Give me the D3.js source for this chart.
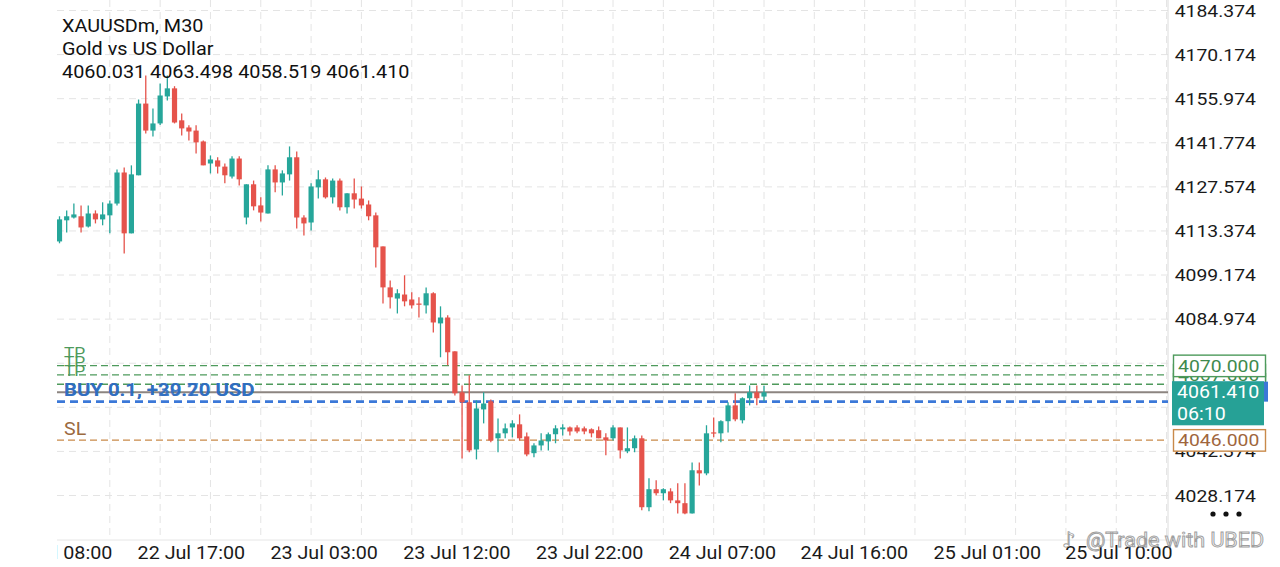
<!DOCTYPE html>
<html>
<head>
<meta charset="utf-8">
<script src="https://cdn.jsdelivr.net/npm/d3@7"></script>
<style>
  html, body { margin: 0; padding: 0; background: #ffffff; }
  svg { display: block; font-family: Roboto, "Noto Sans", sans-serif; }
</style>
</head>
<body>
<div id="vis1"></div>
<script>
// ----------DATA (XAUUSDm M30)-----------------------------------------
const opens = [4110.0, 4116.8, 4117.7, 4118.1, 4114.8, 4119.0, 4117.1, 4118.4, 4122.2, 4132.2,
  4112.6, 4131.3, 4154.4, 4145.7, 4148.0, 4156.7, 4159.3, 4149.0, 4146.7, 4145.7,
  4142.2, 4135.1, 4136.1, 4134.1, 4130.9, 4136.7, 4117.7, 4128.4, 4121.6, 4119.0,
  4133.2, 4129.0, 4131.6, 4137.1, 4117.7, 4116.1, 4127.4, 4130.0, 4124.2, 4129.6,
  4121.0, 4125.5, 4123.8, 4121.9, 4118.4, 4108.4, 4095.2, 4091.6, 4092.9, 4091.3,
  4090.0, 4089.4, 4093.3, 4083.6, 4085.5, 4074.6, 4061.4, 4058.2, 4043.0, 4055.9,
  4058.5, 4046.6, 4048.2, 4050.1, 4051.1, 4047.2, 4041.8, 4044.3, 4045.6, 4047.9,
  4049.5, 4050.1, 4050.1, 4049.8, 4049.5, 4049.2, 4046.9, 4046.6, 4050.1, 4042.4,
  4043.4, 4046.6, 4024.4, 4030.2, 4028.9, 4029.5, 4026.6, 4025.7, 4022.4, 4036.3,
  4035.3, 4048.5, 4048.2, 4052.1, 4057.2, 4052.4, 4059.5, 4061.4, 4060.031];
const highs = [4118.1, 4120.0, 4122.2, 4121.6, 4121.6, 4120.0, 4122.6, 4123.2, 4133.2, 4133.8,
  4134.5, 4155.7, 4163.4, 4152.8, 4160.9, 4163.4, 4160.0, 4151.2, 4147.4, 4147.4,
  4142.5, 4137.7, 4137.1, 4135.1, 4137.4, 4137.4, 4128.4, 4129.6, 4124.2, 4134.5,
  4134.5, 4132.9, 4140.6, 4139.0, 4118.4, 4128.7, 4132.9, 4130.6, 4130.3, 4130.3,
  4125.5, 4130.3, 4127.7, 4123.2, 4119.3, 4108.4, 4097.4, 4094.6, 4099.1, 4093.6,
  4092.0, 4095.2, 4093.6, 4089.1, 4086.2, 4074.6, 4063.6, 4066.9, 4058.8, 4061.4,
  4059.1, 4053.0, 4051.4, 4052.4, 4054.3, 4048.5, 4045.0, 4048.2, 4048.5, 4050.8,
  4051.1, 4050.4, 4050.8, 4050.4, 4049.8, 4050.4, 4048.2, 4050.8, 4050.1, 4050.1,
  4047.5, 4047.5, 4033.7, 4033.1, 4030.5, 4030.5, 4032.1, 4032.1, 4038.8, 4038.8,
  4050.8, 4053.3, 4052.4, 4058.2, 4061.1, 4059.8, 4063.6, 4063.6, 4063.498];
const lows = [4109.4, 4112.9, 4117.4, 4112.9, 4114.5, 4115.8, 4115.2, 4112.6, 4121.6, 4106.1,
  4112.6, 4131.3, 4144.8, 4143.8, 4147.5, 4155.4, 4148.0, 4144.1, 4142.5, 4138.3,
  4134.5, 4131.9, 4131.9, 4128.7, 4130.3, 4128.0, 4115.5, 4120.0, 4116.4, 4119.0,
  4125.8, 4124.8, 4129.6, 4114.2, 4111.9, 4113.5, 4123.8, 4123.8, 4122.2, 4120.0,
  4119.0, 4120.6, 4120.6, 4116.8, 4101.6, 4090.0, 4088.4, 4086.8, 4089.1, 4088.4,
  4085.5, 4086.8, 4080.7, 4072.7, 4070.1, 4060.4, 4040.1, 4042.1, 4039.8, 4051.4,
  4045.3, 4042.1, 4046.6, 4046.9, 4045.9, 4040.8, 4040.5, 4042.7, 4042.7, 4045.0,
  4047.5, 4047.5, 4048.2, 4047.9, 4046.9, 4046.6, 4041.1, 4045.9, 4040.1, 4041.8,
  4042.1, 4023.4, 4023.1, 4028.2, 4026.6, 4025.7, 4022.4, 4022.1, 4022.4, 4031.4,
  4034.7, 4046.9, 4045.3, 4048.5, 4052.1, 4051.4, 4057.2, 4057.2, 4058.519];
const closes = [4117.1, 4118.1, 4118.7, 4114.5, 4119.0, 4117.1, 4118.7, 4122.2, 4132.2, 4112.6,
  4131.6, 4154.4, 4145.7, 4148.0, 4157.0, 4159.3, 4148.3, 4146.4, 4145.4, 4141.9,
  4134.5, 4136.4, 4134.1, 4131.3, 4136.7, 4130.0, 4128.4, 4121.3, 4119.3, 4133.2,
  4129.0, 4131.9, 4137.1, 4117.7, 4115.8, 4127.7, 4130.0, 4124.2, 4129.6, 4121.0,
  4125.5, 4123.5, 4121.6, 4118.1, 4108.1, 4095.2, 4092.0, 4093.3, 4090.7, 4089.4,
  4089.6, 4093.3, 4083.9, 4085.5, 4074.3, 4061.1, 4058.2, 4042.7, 4056.2, 4057.8,
  4045.9, 4048.2, 4049.8, 4051.4, 4046.6, 4041.4, 4044.3, 4045.9, 4047.9, 4049.8,
  4050.1, 4048.8, 4048.8, 4048.8, 4048.2, 4046.6, 4045.9, 4050.1, 4042.7, 4043.4,
  4046.6, 4024.4, 4030.2, 4028.9, 4030.2, 4026.6, 4025.7, 4022.4, 4036.3, 4035.3,
  4048.2, 4048.2, 4052.1, 4057.2, 4052.7, 4059.5, 4061.4, 4059.5, 4061.410];

const priceTicks = [4184.374, 4170.174, 4155.974, 4141.774, 4127.574, 4113.374, 4099.174,
  4084.974, 4070.774, 4056.574, 4042.374, 4028.174];
const timeLabels = ["22 Jul 08:00", "22 Jul 17:00", "23 Jul 03:00", "23 Jul 12:00", "23 Jul 22:00",
  "24 Jul 07:00", "24 Jul 16:00", "25 Jul 01:00", "25 Jul 10:00"];
const timeLabelBars = [-0.2, 18.27, 36.74, 55.21, 73.68, 92.15, 110.5, 129.0, 147.3];

const tpLevels = [4070.000, 4067.000, 4064.000];
const buyLevel = 4058.4;
const buyLabels = ["BUY 0.1,  +29.20 USD", "BUY 0.1,  +30.70 USD"];
const slLevel = 4046.000;
const lastPrice = 4061.410;
const barTimer = "06:10";
const headerLines = ["XAUUSDm, M30", "Gold vs US Dollar", "4060.031 4063.498 4058.519 4061.410"];
const watermark = "@Trade with UBED";

// ----------CONSTANTS FOR PAGE SETUP----------------
const FRAME_WIDTH = 1280;
const FRAME_HEIGHT = 567;
const PLOT = { left: 57, right: 1168, top: 0, bottom: 540 };
const SX = 1.12; // the screenshot is a bit wider than a normal font
const UP = "#26a69a";
const DOWN = "#e5534b";
const GRID = "#e4e4e4";
const TP_COLOR = "#4e9a5c";
const SL_COLOR = "#c98a4a";
const BUY_COLOR = "#3b78d8";

const FRAME1 = d3.select("#vis1")
  .append("svg")
  .attr("width", FRAME_WIDTH)
  .attr("height", FRAME_HEIGHT);

const X = d3.scaleLinear().domain([0, opens.length - 1]).range([59.5, 764]);
const Y = d3.scaleLinear().domain([4184.374, 4028.174]).range([10.5, 495.5]);

const defs = FRAME1.append("defs");
defs.append("clipPath").attr("id", "plotClip")
  .append("rect")
  .attr("x", PLOT.left).attr("y", PLOT.top)
  .attr("width", PLOT.right - PLOT.left).attr("height", PLOT.bottom - PLOT.top);
defs.append("clipPath").attr("id", "timeClip")
  .append("rect")
  .attr("x", PLOT.left).attr("y", PLOT.bottom)
  .attr("width", FRAME_WIDTH - PLOT.left).attr("height", FRAME_HEIGHT - PLOT.bottom);

// ----------GRID----------------
const grid = FRAME1.append("g").attr("clip-path", "url(#plotClip)");

grid.selectAll(".vgrid")
  .data(d3.range(7, 160, 7))
  .enter()
  .append("line")
  .attr("x1", d => X(d)).attr("x2", d => X(d))
  .attr("y1", PLOT.top).attr("y2", PLOT.bottom)
  .attr("stroke", GRID).attr("stroke-dasharray", "7,5");

grid.selectAll(".hgrid")
  .data(priceTicks)
  .enter()
  .append("line")
  .attr("x1", PLOT.left).attr("x2", PLOT.right)
  .attr("y1", d => Y(d)).attr("y2", d => Y(d))
  .attr("stroke", GRID).attr("stroke-dasharray", "7,5");

// frame lines
FRAME1.append("line")
  .attr("x1", PLOT.right).attr("x2", PLOT.right)
  .attr("y1", 0).attr("y2", PLOT.bottom)
  .attr("stroke", "#dcdcdc");
FRAME1.append("line")
  .attr("x1", PLOT.left).attr("x2", PLOT.right)
  .attr("y1", PLOT.bottom).attr("y2", PLOT.bottom)
  .attr("stroke", "#e6e6e6");

// ----------TRADE LEVELS----------------
const levels = FRAME1.append("g").attr("clip-path", "url(#plotClip)");

function levelLine(price, color, width, dash) {
  levels.append("line")
    .attr("x1", PLOT.left).attr("x2", PLOT.right)
    .attr("y1", Y(price)).attr("y2", Y(price))
    .attr("stroke", color)
    .attr("stroke-width", width)
    .attr("stroke-dasharray", dash);
}

tpLevels.forEach(p => levelLine(p, TP_COLOR, 1.3, "7,4"));
levelLine(slLevel, SL_COLOR, 1.3, "7,4");
levelLine(lastPrice, "#8c8580", 2, null);
levelLine(buyLevel, BUY_COLOR, 2.6, "8,5");

// ----------CANDLES----------------
const candles = FRAME1.append("g").attr("clip-path", "url(#plotClip)");
const bars = candles.selectAll(".bar")
  .data(d3.range(opens.length))
  .enter()
  .append("g")
  .attr("fill", i => closes[i] >= opens[i] ? UP : DOWN)
  .attr("stroke", i => closes[i] >= opens[i] ? UP : DOWN);

bars.append("line")
  .attr("x1", i => X(i)).attr("x2", i => X(i))
  .attr("y1", i => Y(highs[i])).attr("y2", i => Y(lows[i]))
  .attr("stroke-width", 1.3);

bars.append("rect")
  .attr("x", i => X(i) - 2.6)
  .attr("width", 5.2)
  .attr("y", i => Y(Math.max(opens[i], closes[i])))
  .attr("height", i => Math.max(1.2, Math.abs(Y(opens[i]) - Y(closes[i]))))
  .attr("stroke", "none");

// ----------LEVEL LABELS----------------
const labels = FRAME1.append("g");
tpLevels.forEach(p => {
  labels.append("text")
    .attr("transform", `translate(64,${Y(p) - 8}) scale(${SX},1)`)
    .attr("fill", TP_COLOR)
    .attr("font-size", 15.5)
    .text("TP");
});
buyLabels.forEach(t => {
  labels.append("text")
    .attr("transform", `translate(64,${Y(buyLevel) - 6}) scale(${SX},1)`)
    .attr("fill", "#2d6cc0")
    .attr("font-size", 18.2)
    .attr("font-weight", 600)
    .attr("opacity", 0.85)
    .text(t);
});
labels.append("text")
  .attr("transform", `translate(64,${Y(slLevel) - 5}) scale(${SX},1)`)
  .attr("fill", "#9b6a3f")
  .attr("font-size", 17.5)
  .text("SL");

// ----------AXES----------------
const yAxis = FRAME1.append("g")
  .attr("transform", `translate(${PLOT.right},0)`)
  .call(d3.axisRight(Y).tickValues(priceTicks).tickFormat(d3.format(".3f")).tickSize(0).tickPadding(6));
yAxis.select(".domain").remove();
yAxis.selectAll("text")
  .attr("font-size", 17.3)
  .attr("font-family", "Roboto, sans-serif")
  .attr("fill", "#1a1a1a")
  .attr("transform", `scale(${SX},1)`);

const xAxis = FRAME1.append("g")
  .attr("clip-path", "url(#timeClip)")
  .append("g")
  .attr("transform", `translate(0,${PLOT.bottom})`)
  .call(d3.axisBottom(X).tickValues(timeLabelBars).tickFormat((d, i) => timeLabels[i]).tickSize(0).tickPadding(7));
xAxis.select(".domain").remove();
xAxis.selectAll("text")
  .attr("font-size", 17.6)
  .attr("font-family", "Roboto, sans-serif")
  .attr("fill", "#1a1a1a")
  .attr("transform", `scale(${SX},1)`);

// ----------PRICE TAGS----------------
const tags = FRAME1.append("g");

function priceTag(price, txt, stroke, fill, color) {
  const y = Y(price);
  tags.append("rect")
    .attr("x", 1173.5).attr("y", y - 10.5)
    .attr("width", 92).attr("height", 21.5)
    .attr("fill", fill).attr("stroke", stroke).attr("stroke-width", 1.4);
  tags.append("text")
    .attr("transform", `translate(1178,${y + 6}) scale(${SX},1)`)
    .attr("font-size", 17.3)
    .attr("fill", color)
    .text(txt);
}

const fmt = d3.format(".3f");
priceTag(tpLevels[2], fmt(tpLevels[2]), TP_COLOR, "#ffffff", "#3f8a4d");
priceTag(tpLevels[1], fmt(tpLevels[1]), TP_COLOR, "#ffffff", "#3f8a4d");
tags.append("rect")
  .attr("x", 1172).attr("y", Y(buyLevel) - 20)
  .attr("width", 96).attr("height", 20)
  .attr("fill", BUY_COLOR);
priceTag(tpLevels[0], fmt(tpLevels[0]), TP_COLOR, "#ffffff", "#3f8a4d");

// current price box with bar timer
const yLast = Y(lastPrice);
tags.append("rect")
  .attr("x", 1172).attr("y", yLast - 11)
  .attr("width", 92).attr("height", 44)
  .attr("fill", "#26a196");
tags.append("text")
  .attr("transform", `translate(1177,${yLast + 6}) scale(${SX},1)`)
  .attr("font-size", 17.5).attr("fill", "#ffffff")
  .text(fmt(lastPrice));
tags.append("text")
  .attr("transform", `translate(1177,${yLast + 28}) scale(${SX},1)`)
  .attr("font-size", 17.5).attr("fill", "#ffffff")
  .text(barTimer);

priceTag(slLevel, fmt(slLevel), SL_COLOR, "#ffffff", "#a0663c");

// more-menu dots
FRAME1.append("g").selectAll("circle")
  .data([0, 1, 2])
  .enter()
  .append("circle")
  .attr("cx", d => 1213 + d * 13)
  .attr("cy", 514)
  .attr("r", 2.6)
  .attr("fill", "#111111");

// ----------HEADER----------------
const header = FRAME1.append("g");
header.selectAll("text")
  .data(headerLines)
  .enter()
  .append("text")
  .attr("transform", (d, i) => `translate(62,${32 + i * 23}) scale(${SX},1)`)
  .attr("font-size", 17.7)
  .attr("fill", "#111111")
  .text(d => d);

// ----------WATERMARK----------------
const wm = FRAME1.append("g").attr("opacity", 0.85);
wm.append("text")
  .attr("x", 1062).attr("y", 547)
  .attr("font-size", 21)
  .attr("font-family", "DejaVu Sans, sans-serif")
  .attr("fill", "#ffffff").attr("stroke", "#8f8f8f").attr("stroke-width", 0.9)
  .text("\u266A");
wm.append("text")
  .attr("transform", `translate(1086,547) scale(1.05,1)`)
  .attr("font-size", 20.5)
  .attr("fill", "#f6f6f6").attr("stroke", "#8f8f8f").attr("stroke-width", 0.9)
  .text(watermark);
</script>
</body>
</html>
